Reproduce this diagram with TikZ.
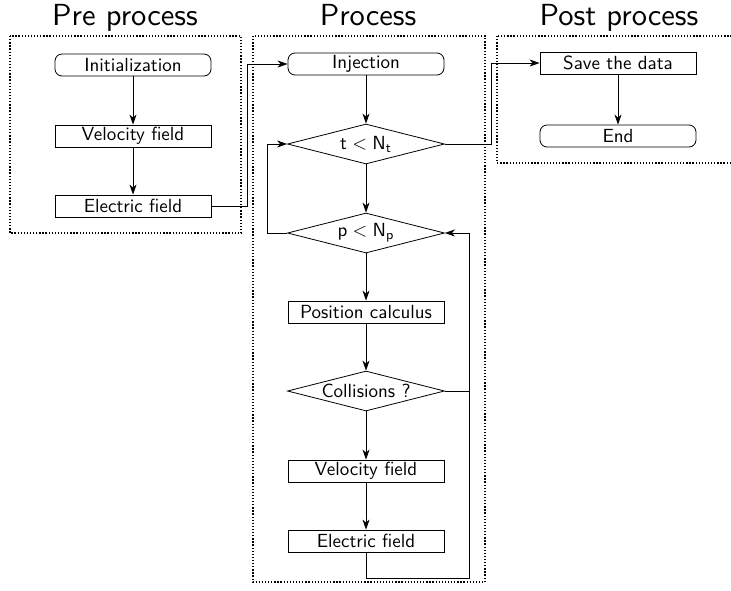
\documentclass[tikz,border=0pt]{standalone}
\usepackage{graphicx}
\usetikzlibrary{arrows.meta,shapes.geometric}
\newcommand{\nt}[1]{\scalebox{1.9}{\sffamily\fontsize{10}{12}\selectfont #1}}
\newcommand{\ttl}[1]{\scalebox{3.05}{\sffamily\fontsize{10}{12}\selectfont #1}}
\begin{document}
\begin{tikzpicture}[x=1pt,y=-1pt,
  title/.style={anchor=base, inner sep=0},
  box/.style={draw, line width=0.8pt, minimum width=156pt, minimum height=22pt, inner sep=0},
  rbox/.style={box, rounded corners=7pt},
  dia/.style={draw, line width=0.8pt, shape=diamond, aspect=1, inner sep=0, minimum width=157pt, minimum height=40pt},
  conn/.style={line width=0.8pt},
  arr/.style={conn, -{Stealth[length=10pt,width=7pt,inset=3pt]}},
  group/.style={line width=1.3pt, dash pattern=on 1.3pt off 1.8pt}
]
\useasboundingbox (0,0) rectangle (731,590);
\node[title] (t1) at (125,25) {\ttl{Pre process}};
\node[title] (t2) at (368,25) {\ttl{Process}};
\node[title] (t3) at (619,25) {\ttl{Post process}};

\draw[group] (10,36) rectangle (241,233);
\draw[group] (253,36) rectangle (485,582);
\draw[group] (497,36) rectangle (740,163);

% Pre process
\node[rbox] (init) at (133,65) {\nt{Initialization}};
\node[box] (vel1) at (133,136) {\nt{Velocity field}};
\node[box] (elec1) at (133,206) {\nt{Electric field}};

% Process
\node[rbox] (inj) at (366,64) {\nt{Injection}};
\node[dia] (tc) at (366,144) {\makebox[0pt]{\nt{$\mathsf{t} < \mathsf{N}_{\mathsf{t}}$}}};
\node[dia] (pc) at (366,233) {\makebox[0pt]{\nt{$\mathsf{p} < \mathsf{N}_{\mathsf{p}}$}}};
\node[box] (pos) at (366,312) {\nt{Position calculus}};
\node[dia] (coll) at (366,391) {\makebox[0pt]{\nt{Collisions ?}}};
\node[box] (vel2) at (366,471) {\nt{Velocity field}};
\node[box] (elec2) at (366,541) {\nt{Electric field}};

% Post process
\node[box] (save) at (618,63) {\nt{Save the data}};
\node[rbox] (end) at (618,136) {\nt{End}};

\coordinate (j1) at (247,206);
\coordinate (j2) at (491,144);
\coordinate (j3) at (267,233);
\coordinate (j4) at (469,578);

\draw[arr] (init) -- (vel1);
\draw[arr] (vel1) -- (elec1);
\draw[arr] (elec1.east) -- (j1) |- (inj.west);
\draw[arr] (inj) -- (tc);
\draw[arr] (tc.east) -- (j2) |- (save.west);
\draw[arr] (save) -- (end);
\draw[arr] (tc) -- (pc);
\draw[arr] (pc.west) -- (j3) |- (tc.west);
\draw[arr] (pc) -- (pos);
\draw[arr] (pos) -- (coll);
\draw[arr] (coll) -- (vel2);
\draw[arr] (vel2) -- (elec2);
\draw[arr] (elec2.south) |- (j4) |- (pc.east);
\draw[conn] (coll.east) -- (coll.east -| j4);
\end{tikzpicture}
\end{document}
